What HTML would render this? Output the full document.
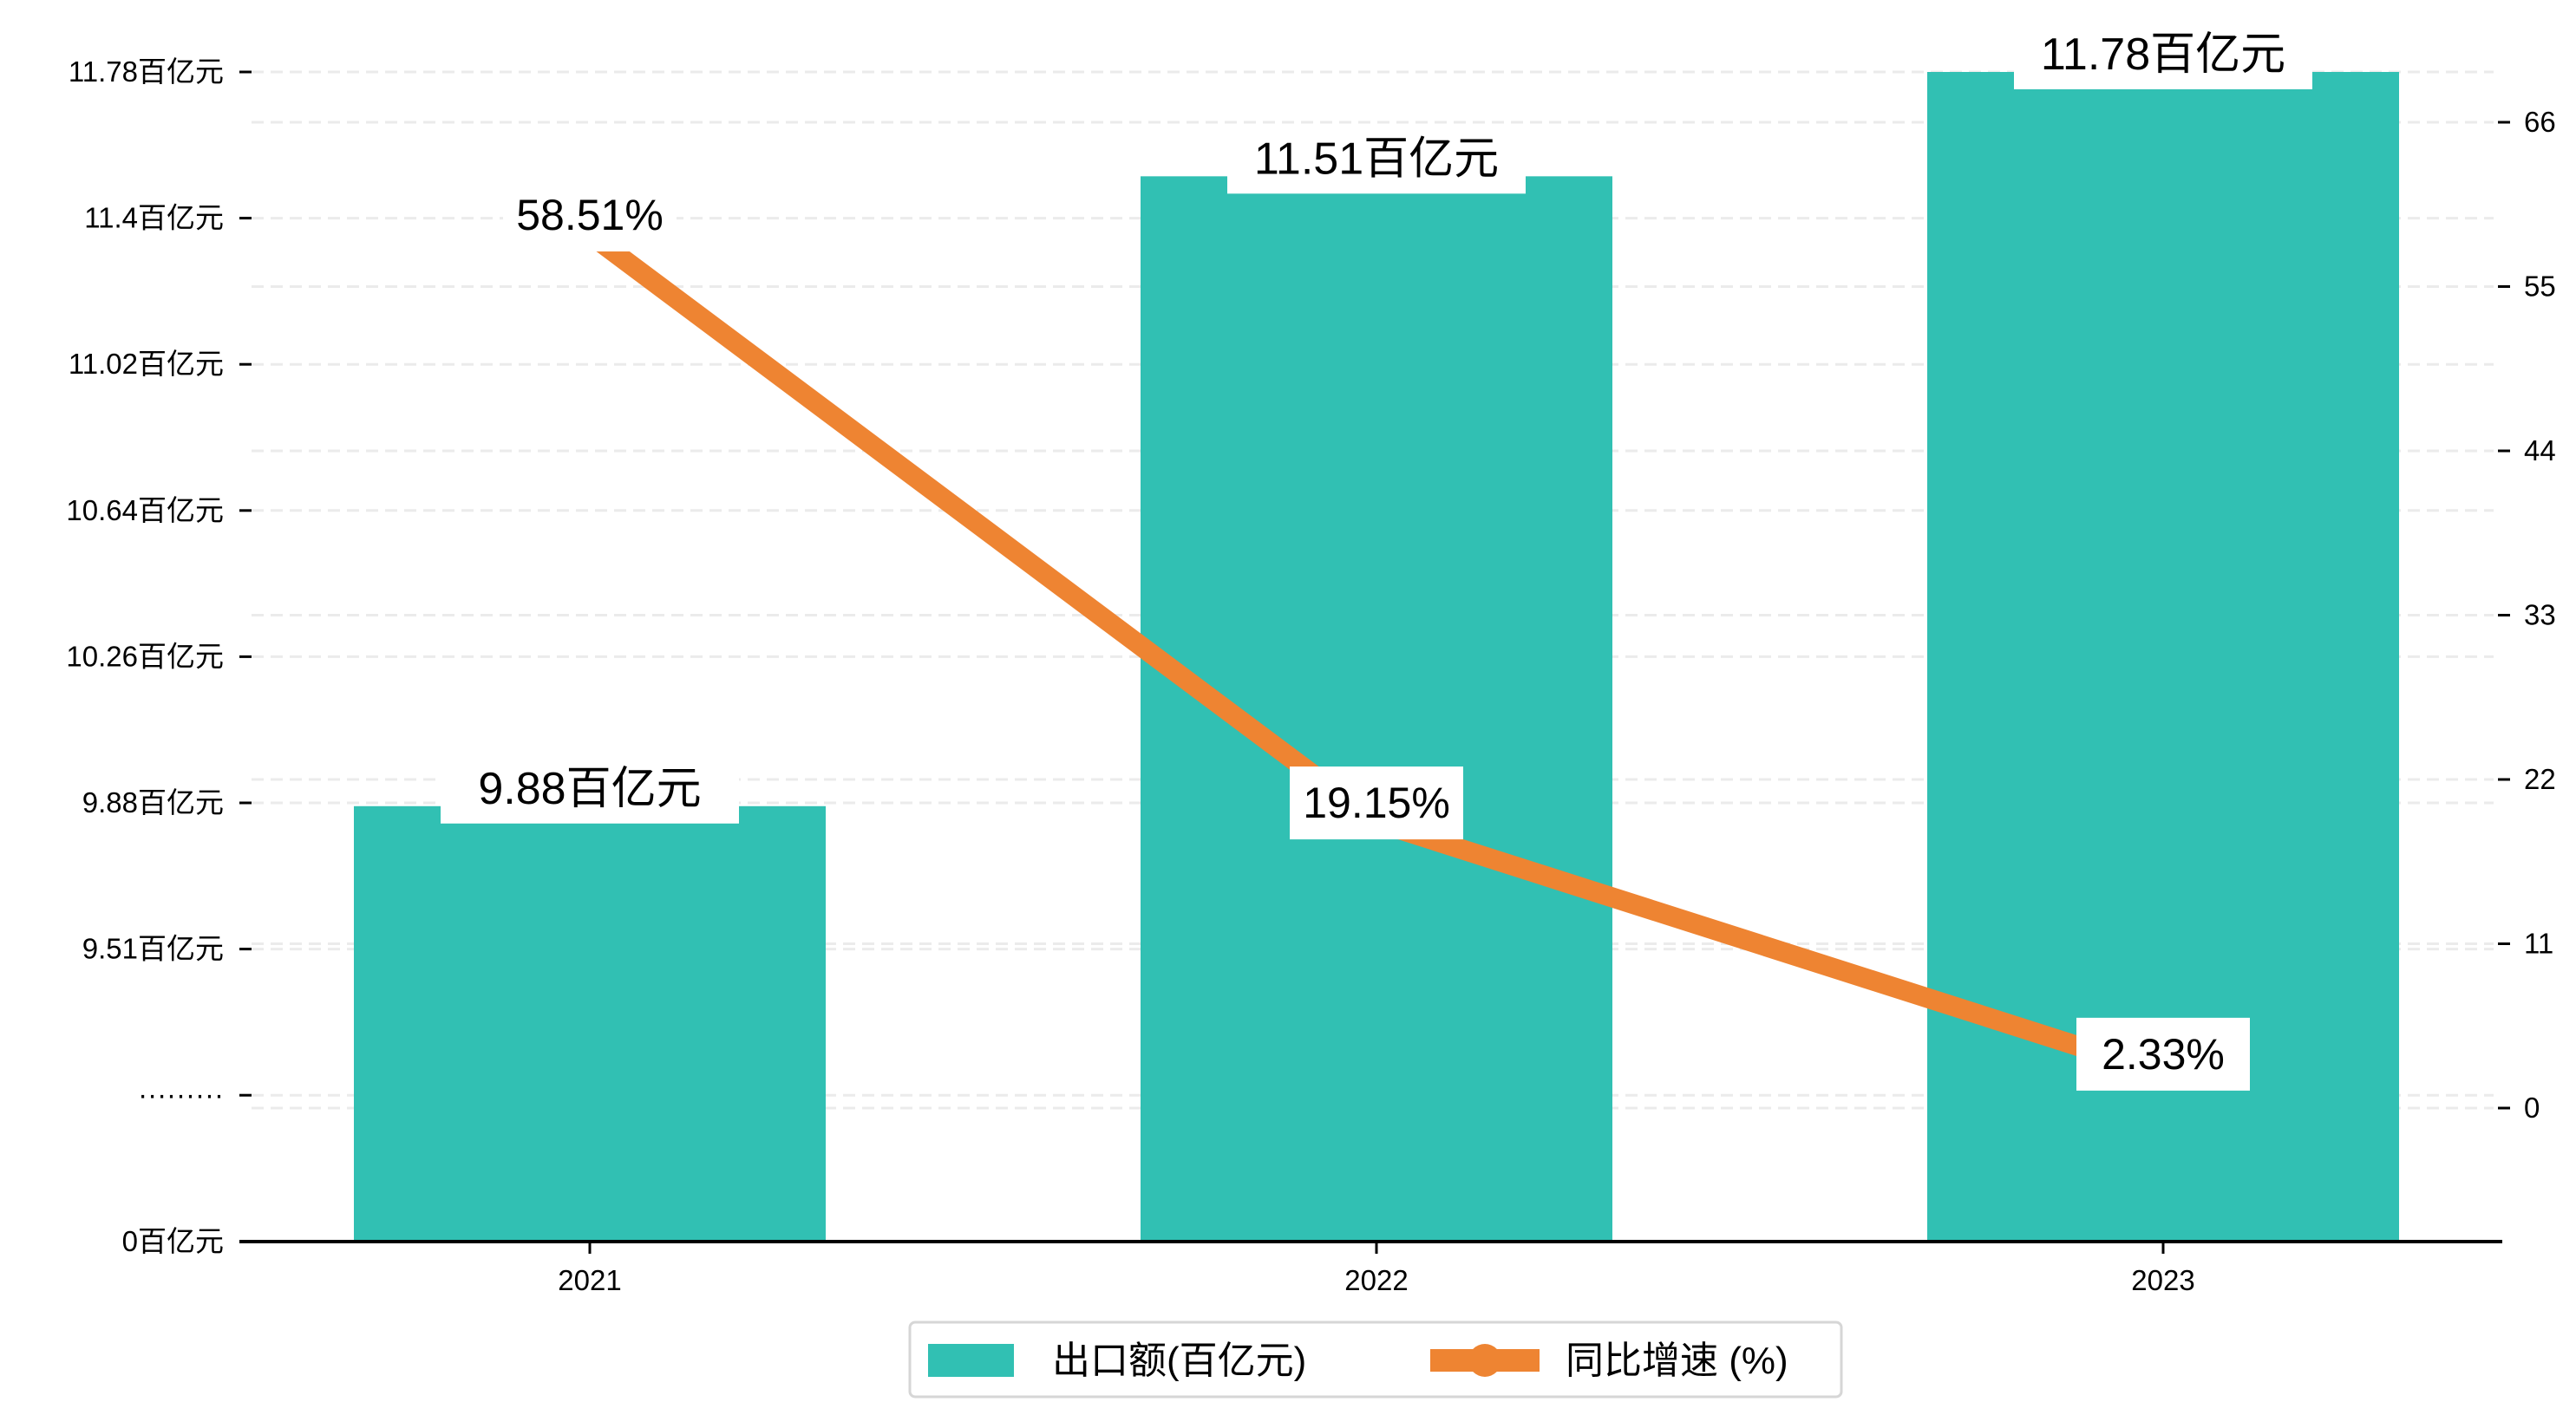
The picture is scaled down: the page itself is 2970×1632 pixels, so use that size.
<!DOCTYPE html>
<html><head><meta charset="utf-8">
<style>
html,body{margin:0;padding:0;background:#fff;}
svg{display:block;font-family:"Liberation Sans","Noto Sans CJK SC",sans-serif;}
</style></head>
<body>
<svg id="chart" width="2970" height="1632" viewBox="0 0 2970 1632" xmlns="http://www.w3.org/2000/svg"></svg>
<script>
const categories = ["2021","2022","2023"];
const exportValues = [9.88, 11.51, 11.78];
const growthValues = [58.51, 19.15, 2.33];
const leftTickLabels = ["11.78百亿元","11.4百亿元","11.02百亿元","10.64百亿元","10.26百亿元","9.88百亿元","9.51百亿元","·········","0百亿元"];
const rightTickValues = [0, 11, 22, 33, 44, 55, 66];

const NS = "http://www.w3.org/2000/svg";
const svg = document.getElementById("chart");
const TEAL = "#31C0B3", ORANGE = "#EE8432";
const plotL = 276, plotR = 2885, axisY = 1432;
const leftTop = 83, leftStep = 168.6;
const xCenter = i => 680 + i * 907;
const barW = 544;
// broken left axis: linear from top tick down to "9.51" tick
const yLeft = v => leftTop + (11.78 - v) / 0.3783 * leftStep;
const yRight = v => 1278 - v / 11 * 189.5;

function el(tag, attrs, parent) {
  const e = document.createElementNS(NS, tag);
  for (const k in attrs) e.setAttribute(k, attrs[k]);
  (parent || svg).appendChild(e);
  return e;
}

// gridlines
const grid = el("g", {});


leftTickLabels.forEach((t, i) => {
  const y = leftTop + i * leftStep;
  if (i < leftTickLabels.length - 1) {
    el("line", {x1: 290, x2: 2875, y1: y, y2: y, stroke: "#ebebeb", "stroke-width": 3, "stroke-dasharray": "14,8"}, grid);
  }
});
rightTickValues.forEach(v => {
  const y = yRight(v);
  el("line", {x1: 290, x2: 2875, y1: y, y2: y, stroke: "#ebebeb", "stroke-width": 3, "stroke-dasharray": "14,8"}, grid);
});

// bars
categories.forEach((c, i) => {
  const y = yLeft(exportValues[i]);
  const r = el("rect", {x: xCenter(i) - barW / 2, y: y, width: barW, height: axisY - y, fill: TEAL});
  
  
});

// line
const pts = growthValues.map((v, i) => xCenter(i) + "," + yRight(v)).join(" ");
const line = el("polyline", {points: pts, fill: "none", stroke: ORANGE, "stroke-width": 23, "stroke-linejoin": "miter"});



// bar value labels
categories.forEach((c, i) => {
  const y = yLeft(exportValues[i]);
  const cx = xCenter(i);
  const g = el("g", {});
  
  
  el("rect", {x: cx - 172, y: y - 60, width: 344, height: 80, fill: "#fff"}, g);
  const t = el("text", {x: cx, y: y - 3, "text-anchor": "middle", "font-size": 52, fill: "#000"}, g);
  t.textContent = exportValues[i].toFixed(2) + "百亿元";
});

// growth labels
categories.forEach((c, i) => {
  const y = yRight(growthValues[i]) - 22;
  const cx = xCenter(i);
  const g = el("g", {});
  
  
  el("rect", {x: cx - 100, y: y - 42, width: 200, height: 84, fill: "#fff"}, g);
  const t = el("text", {x: cx, y: y + 17, "text-anchor": "middle", "font-size": 50, fill: "#000"}, g);
  t.textContent = growthValues[i].toFixed(2) + "%";
});

// left axis ticks + labels
const la = el("g", {});


leftTickLabels.forEach((t, i) => {
  const y = leftTop + i * leftStep;
  el("line", {x1: 276, x2: 290, y1: y, y2: y, stroke: "#000", "stroke-width": 3}, la);
  const tx = el("text", {x: 258, y: y + 11, "text-anchor": "end", "font-size": 33, fill: "#000"}, la);
  tx.textContent = t;
});

// right axis ticks + labels
const ra = el("g", {});


rightTickValues.forEach(v => {
  const y = yRight(v);
  el("line", {x1: 2880, x2: 2894, y1: y, y2: y, stroke: "#000", "stroke-width": 3}, ra);
  const tx = el("text", {x: 2910, y: y + 11, "text-anchor": "start", "font-size": 33, fill: "#000"}, ra);
  tx.textContent = String(v);
});

// x axis
const xa = el("g", {});


el("line", {x1: plotL, x2: plotR, y1: axisY, y2: axisY, stroke: "#000", "stroke-width": 4}, xa);
categories.forEach((c, i) => {
  el("line", {x1: xCenter(i), x2: xCenter(i), y1: axisY, y2: axisY + 14, stroke: "#000", "stroke-width": 3}, xa);
  const tx = el("text", {x: xCenter(i), y: axisY + 56, "text-anchor": "middle", "font-size": 33, fill: "#000"}, xa);
  tx.textContent = c;
});

// legend
const lg = el("g", {});


el("rect", {x: 1049, y: 1525, width: 1074, height: 86, rx: 6, fill: "#fff", stroke: "#d6d6d6", "stroke-width": 3}, lg);
const le1 = el("g", {}, lg);


el("rect", {x: 1070, y: 1550, width: 99, height: 38, fill: TEAL}, le1);
const lt1 = el("text", {x: 1213, y: 1584, "font-size": 44, fill: "#000"}, le1);
lt1.textContent = "出口额(百亿元)";
const le2 = el("g", {}, lg);


el("rect", {x: 1649, y: 1556, width: 126, height: 26, fill: ORANGE}, le2);
el("circle", {cx: 1712, cy: 1569, r: 19, fill: ORANGE}, le2);
const lt2 = el("text", {x: 1805, y: 1584, "font-size": 44, fill: "#000"}, le2);
lt2.textContent = "同比增速 (%)";
</script>
</body></html>
